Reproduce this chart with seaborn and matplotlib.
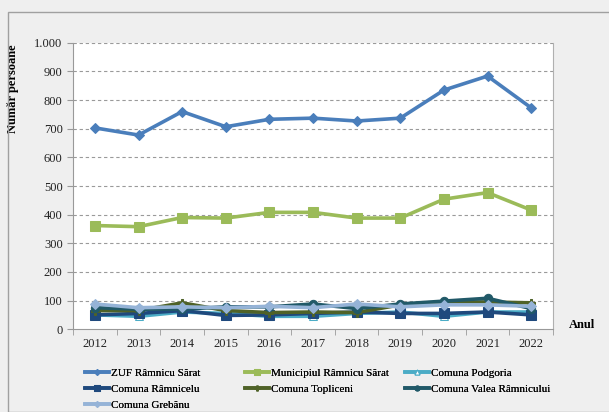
import matplotlib
matplotlib.use("Agg")
import matplotlib.pyplot as plt
import numpy as np
import pandas as pd
import seaborn as sns
from matplotlib.patches import Rectangle
from matplotlib.ticker import FuncFormatter, MultipleLocator

years = [2012, 2013, 2014, 2015, 2016, 2017, 2018, 2019, 2020, 2021, 2022]

zuf = [703, 678, 760, 707, 733, 737, 727, 737, 835, 884, 773]
municipiul = [362, 358, 390, 388, 408, 408, 388, 388, 454, 477, 416]
podgoria = [50, 45, 60, 55, 45, 45, 55, 60, 45, 60, 60]
ramnicelu = [50, 55, 65, 48, 50, 55, 60, 55, 55, 60, 50]
topliceni = [65, 65, 92, 65, 58, 60, 58, 85, 95, 95, 92]
valea = [75, 70, 70, 78, 78, 88, 72, 88, 98, 108, 72]
grebanu = [88, 75, 78, 75, 80, 75, 88, 78, 85, 85, 80]

series_names = [
    "ZUF Râmnicu Sărat",
    "Municipiul Râmnicu Sărat",
    "Comuna Podgoria",
    "Comuna Râmnicelu",
    "Comuna Topliceni",
    "Comuna Valea Râmnicului",
    "Comuna Grebănu",
]
series_values = [zuf, municipiul, podgoria, ramnicelu, topliceni, valea, grebanu]

colors = ["#4a7ebb", "#9bbb59", "#4bacc6", "#1f497d", "#4f6228", "#215968", "#95b3d7"]
markers = ["D", "s", "^", "s", "P", "o", "D"]
msizes = [5, 7, 6, 7, 6, 6, 5]

rows = []
for name, vals in zip(series_names, series_values):
    for i, v in enumerate(vals):
        rows.append({"Anul": i, "An": years[i], "Serie": name, "Valoare": v})
df = pd.DataFrame(rows)

font = "Liberation Serif"
plt.rcParams["font.family"] = [font, "DejaVu Serif"]

fig = plt.figure(figsize=(6.09, 4.12), dpi=100, facecolor="#efefef")
ax = fig.add_axes([0.12, 0.201, 0.788, 0.695])
ax.set_facecolor("white")

# outer chart frame
fig.patches.append(Rectangle((8 / 609, 0.0), 1.0, 1 - 12 / 412, transform=fig.transFigure,
                             fill=False, edgecolor="#a0a0a0", linewidth=1.0))

for name, c, m, ms in zip(series_names, colors, markers, msizes):
    sub = df[df["Serie"] == name]
    hollow = name == "Comuna Podgoria"
    sns.lineplot(
        data=sub, x="Anul", y="Valoare", ax=ax, color=c, linewidth=2.6,
        marker=m, markersize=ms, markeredgecolor=c,
        markerfacecolor="white" if hollow else c, label=name, legend=False,
    )

ax.set_xlim(-0.5, len(years) - 0.5)
ax.set_ylim(0, 1000)
ax.yaxis.set_major_locator(MultipleLocator(100))
ax.yaxis.set_major_formatter(FuncFormatter(lambda v, p: f"{int(v):,}".replace(",", ".")))
ax.set_xticks(range(len(years)))
ax.set_xticklabels([str(y) for y in years])
ax.set_xticks(np.arange(-0.5, len(years), 1), minor=True)
ax.tick_params(axis="x", which="major", length=0, pad=6, labelsize=9)
ax.tick_params(axis="x", which="minor", length=4, color="#999999", direction="out")
ax.tick_params(axis="y", length=4, color="#999999", labelsize=9)
for lab in ax.get_xticklabels() + ax.get_yticklabels():
    lab.set_color("#222222")

for v in range(100, 1001, 100):
    ax.axhline(v, color="#9a9a9a", linestyle=(0, (3, 2.5)), linewidth=0.8, zorder=0)

for s in ["top", "right"]:
    ax.spines[s].set_visible(False)
ax.spines["left"].set_color("#999999")
ax.spines["bottom"].set_color("#999999")
ax.set_xlabel("")
ax.set_ylabel("Număr persoane", fontsize=9, fontweight="bold")
ax.yaxis.set_label_coords(-0.112, 0.84)
fig.text(582 / 609, 1 - 325 / 412, "Anul", fontsize=9, fontweight="bold", ha="center", va="center")

# right border of plot area
ax.plot([1, 1], [0, 1], transform=ax.transAxes, color="#b0b0b0", linewidth=0.8, clip_on=False)

# legend: three columns filled row by row, placed separately
handles, labels = ax.get_legend_handles_labels()
col_groups = [[0, 3, 6], [1, 4], [2, 5]]
col_x = [75, 235, 395]
for grp, x0 in zip(col_groups, col_x):
    lg = fig.legend(
        [handles[i] for i in grp], [labels[i] for i in grp],
        loc="upper left", bbox_to_anchor=(x0 / 609, 1 - 358 / 412), ncol=1,
        frameon=False, fontsize=8, handlelength=2.2,
        labelspacing=0.55, handletextpad=0.15, markerscale=0.6,
    )
    fig.add_artist(lg)

fig.savefig("out.png", dpi=100, facecolor=fig.get_facecolor())
